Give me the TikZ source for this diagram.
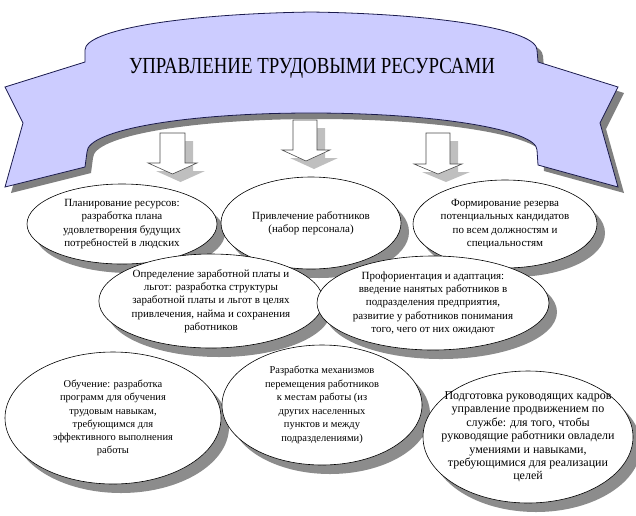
\documentclass[tikz,border=0pt]{standalone}
\usepackage{fontspec}
\setmainfont{Liberation Serif}
\usetikzlibrary{shapes.geometric,shadows}
\definecolor{ribbon}{HTML}{CCCCFF}
\definecolor{ribbonline}{HTML}{1A1A4D}

\begin{document}
\begin{tikzpicture}[x=1pt, y=-1pt,
    banner/.style={fill=ribbon, draw=ribbonline, line width=0.8pt,
      drop shadow={shadow xshift=6pt, shadow yshift=-6pt, fill=black!50, opacity=1}},
    blockarrow/.style={draw=black!70, fill=white, line width=0.6pt,
      drop shadow={shadow xshift=8pt, shadow yshift=-8pt, fill=black!25, opacity=1}},
    oval/.style={ellipse, draw, fill=white, line width=0.6pt, inner sep=0pt, align=center,
      font=\fontsize{11}{13.3}\selectfont,
      drop shadow={shadow xshift=8pt, shadow yshift=-9pt, fill=black!45, opacity=1}}]
  \useasboundingbox (0,0) rectangle (636,515);

  % лента
  \path[banner] (85,62) -- (5,87) -- (23,123) -- (5,187) -- (85,167) -- (87,152)
    .. controls (87,130) and (185,113) .. (311,113)
    .. controls (437,113) and (537,130) .. (537,150)
    -- (538,165) -- (618,187) -- (600,123) -- (618,87) -- (538,62) -- (537,50)
    .. controls (537,30) and (442,14) .. (311,12)
    .. controls (180,14) and (85,30) .. (85,50) -- cycle;
  \node (title) at (312,68) {\fontsize{23}{26}\selectfont\scalebox{0.82}[1]{УПРАВЛЕНИЕ ТРУДОВЫМИ РЕСУРСАМИ}};

  % стрелки
  \path[blockarrow] (160,133) -- (185,133) -- (185,163) -- (197,163) -- (172.5,174)
    -- (148,163) -- (160,163) -- cycle;
  \path[blockarrow] (293,120) -- (317,120) -- (317,150) -- (330,150) -- (306,161)
    -- (282,150) -- (293,150) -- cycle;
  \path[blockarrow] (426,133) -- (450,133) -- (450,164) -- (462,164) -- (438,174)
    -- (414,164) -- (426,164) -- cycle;

  % функции
  \node[oval, minimum width=190, minimum height=80] (plan) at (122,224)
    {Планирование ресурсов:\\разработка плана\\удовлетворения будущих\\потребностей в людских};
  \node[oval, minimum width=180, minimum height=92] (hire) at (311,223)
    {Привлечение работников\\(набор персонала)};
  \node[oval, minimum width=184, minimum height=88] (reserve) at (505,224)
    {Формирование резерва\\потенциальных кандидатов\\по всем должностям и\\специальностям};
  \node[oval, minimum width=208, minimum height=94] (pay) at (211,301)
    {Определение заработной платы и\\льгот: разработка структуры\\заработной платы и льгот в целях\\привлечения, найма и сохранения\\работников};
  \node[oval, minimum width=232, minimum height=94] (adapt) at (433,303)
    {Профориентация и адаптация:\\введение нанятых работников в\\подразделения предприятия,\\развитие у работников понимания\\того, чего от них ожидают};
  \node[oval, minimum width=216, minimum height=132, font=\fontsize{10.5}{13.3}\selectfont] (train) at (113,418)
    {Обучение: разработка\\программ для обучения\\трудовым навыкам,\\требующимся для\\эффективного выполнения\\работы};
  \node[oval, minimum width=200, minimum height=120, font=\fontsize{10.5}{13.5}\selectfont] (move) at (322,405)
    {Разработка механизмов\\перемещения работников\\к местам работы (из\\других населенных\\пунктов и между\\подразделениями)};
  \node[oval, minimum width=210, minimum height=132, inner xsep=-16pt, font=\fontsize{12}{13.4}\selectfont] (lead) at (528,437)
    {Подготовка руководящих кадров\\управление продвижением по\\службе: для того, чтобы\\руководящие работники овладели\\умениями и навыками,\\требующимися для реализации\\целей};
\end{tikzpicture}
\end{document}
